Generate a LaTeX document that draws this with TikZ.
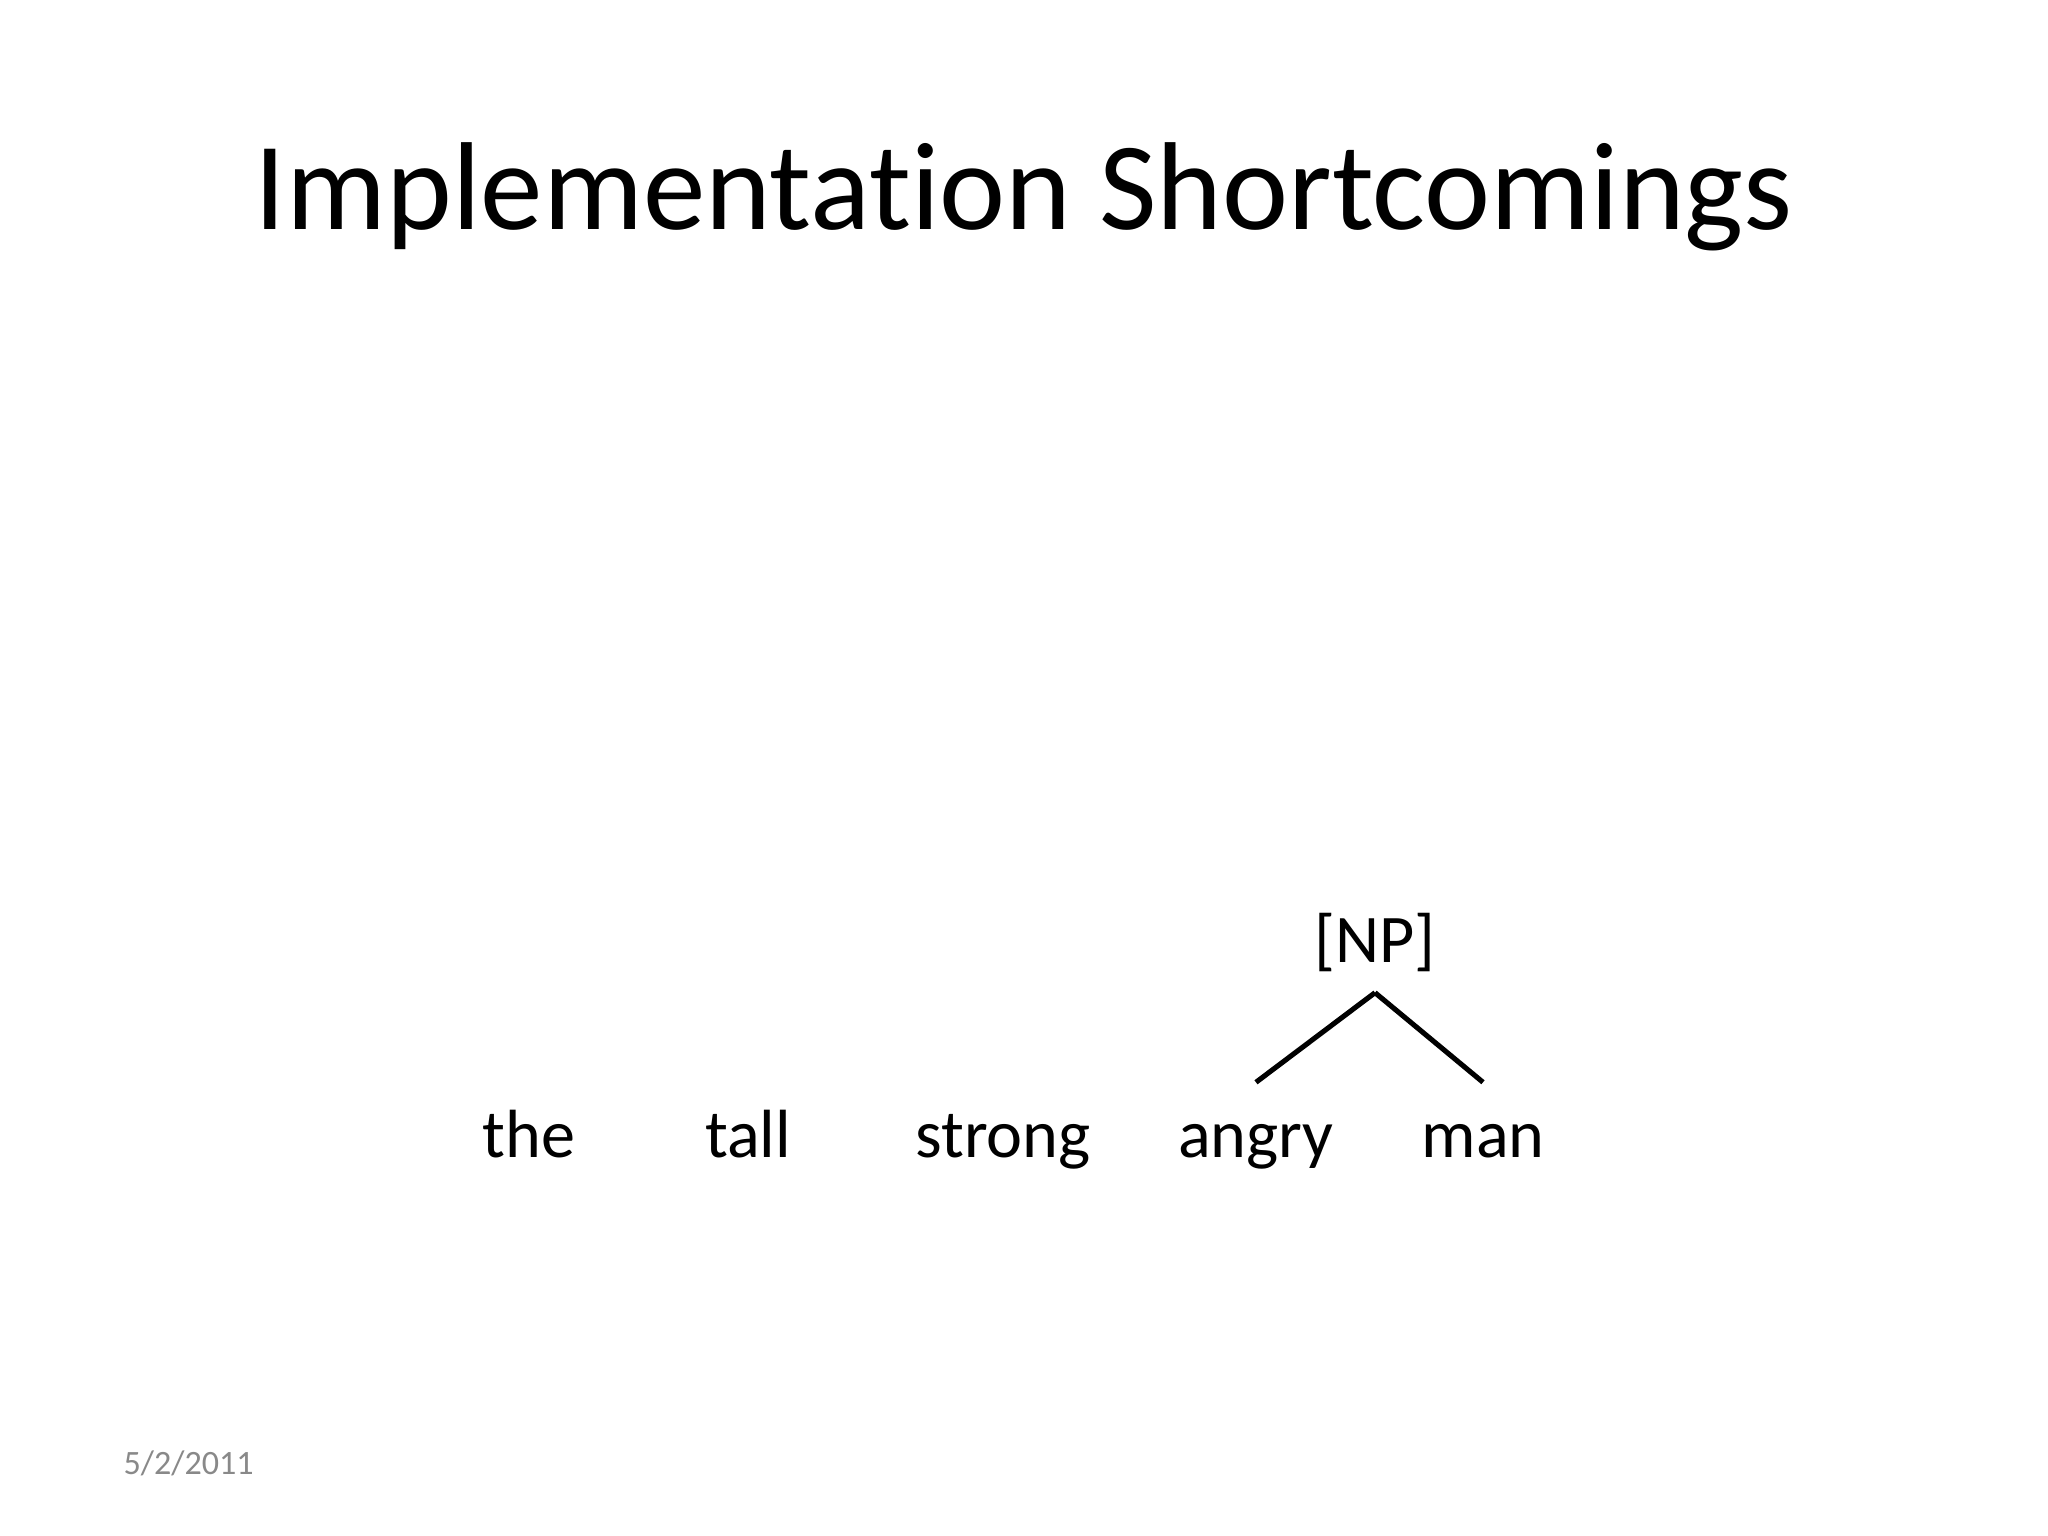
\documentclass[tikz,border=0pt]{standalone}
\usepackage{fontspec}
\setmainfont{Carlito}[Ligatures=NoCommon]
\usepackage{xcolor}
\usetikzlibrary{positioning}

\definecolor{dategray}{HTML}{898989}

\begin{document}
\begin{tikzpicture}[
    title/.style={font=\fontsize{35.6}{42}\selectfont, inner sep=0pt, anchor=base},
    word/.style={font=\fontsize{19.4}{23}\selectfont, inner sep=0pt, text height=0.75cm, anchor=base},
    phrase/.style={font=\fontsize{19.4}{23}\selectfont, inner sep=0pt, text depth=0.29cm, anchor=base},
    branch/.style={line width=1.45pt},
    footer/.style={font=\fontsize{9.7}{12}\selectfont, text=dategray, inner sep=0pt, anchor=base west}
]

  % Page
  \useasboundingbox[fill=white] (0,0) rectangle (20.48,15.36);

  % Title
  \node[title] (heading) at (10.24,13.06) {Implementation Shortcomings};

  % Words
  \node[word] (the) at (5.29,3.78) {the};
  \node[word] (tall) at (7.48,3.78) {tall};
  \node[word] (strong) at (10.03,3.78) {strong};
  \node[word] (angry) at (12.56,3.78) {angry};
  \node[word] (man) at (14.83,3.78) {man};

  % Phrase
  \node[phrase] (np) at (13.75,5.73) {[NP]};

  % Branches
  \draw[branch] (np.south) -- (angry.north);
  \draw[branch] (np.south) -- (man.north);

  % Footer
  \node[footer] (date) at (1.23,0.61) {5/2/2011};

\end{tikzpicture}
\end{document}
